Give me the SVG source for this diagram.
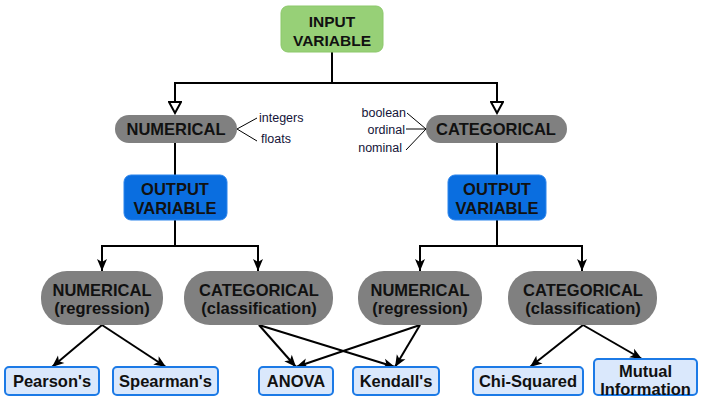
<svg xmlns="http://www.w3.org/2000/svg" width="703" height="409" viewBox="0 0 703 409">
<style>
.t{font-family:"Liberation Sans",Arial,sans-serif;font-weight:bold;font-size:16.5px;fill:#111;text-anchor:middle}
.s{font-family:"Liberation Sans",Arial,sans-serif;font-size:12.5px;fill:#141438}
.pill{fill:#808080}
.leaf{fill:#dae8fc;stroke:#1c7ae6;stroke-width:2}
.out{fill:#0a6ee0;stroke:#2b84ec;stroke-width:1}
.c{fill:none;stroke:#000;stroke-width:2}
.a{fill:none;stroke:#000;stroke-width:1}
</style>
<defs>
<marker id="arr" markerUnits="userSpaceOnUse" markerWidth="14" markerHeight="12" viewBox="0 0 14 12" refX="13" refY="6" orient="auto"><path d="M1,1 L13,6 L1,11 L4,6 Z" fill="#000"/></marker>
<marker id="hol" markerUnits="userSpaceOnUse" markerWidth="14" markerHeight="14" viewBox="0 0 14 14" refX="12" refY="7" orient="auto"><path d="M1,1 L12,7 L1,13 Z" fill="#fff" stroke="#000" stroke-width="2"/></marker>
</defs>

<g id="connectors">
<path class="c" d="M332,52 V83 H175 V113" marker-end="url(#hol)"/>
<path class="c" d="M332,83 H497 V113" marker-end="url(#hol)"/>
<path class="c" d="M175,143 V175"/>
<path class="c" d="M497,143 V175"/>
<path class="c" d="M175,220 V246 H102 V271" marker-end="url(#arr)"/>
<path class="c" d="M175,246 H258 V271" marker-end="url(#arr)"/>
<path class="c" d="M497,220 V246 H420 V271" marker-end="url(#arr)"/>
<path class="c" d="M497,246 H582 V271" marker-end="url(#arr)"/>
<path class="c" d="M102,325 L52,367" marker-end="url(#arr)"/>
<path class="c" d="M102,325 L166,367" marker-end="url(#arr)"/>
<path class="c" d="M259,325 L296,367" marker-end="url(#arr)"/>
<path class="c" d="M259,325 L395,367" marker-end="url(#arr)"/>
<path class="c" d="M420,325 L296,367" marker-end="url(#arr)"/>
<path class="c" d="M420,325 L395,367" marker-end="url(#arr)"/>
<path class="c" d="M583,325 L530,367" marker-end="url(#arr)"/>
<path class="c" d="M583,325 L642,359" marker-end="url(#arr)"/>
<path class="a" d="M237,129 L257,118 M237,129 L257,141"/>
<path class="a" d="M426,129 L407,113 M426,129 L406,129 M426,129 L406,150"/>
</g>

<g id="input">
<rect x="281" y="6" width="102" height="46" rx="7" fill="#97d077" stroke="#8cc86b"/>
<text class="t" style="font-size:15.5px" x="332" y="27">INPUT</text>
<text class="t" style="font-size:15.5px" x="332" y="46">VARIABLE</text>
</g>

<g id="numerical">
<rect class="pill" x="115" y="115" width="122" height="28" rx="14"/>
<text class="t" x="176" y="135">NUMERICAL</text>
</g>
<g id="numerical-types">
<text class="s" x="259" y="122">integers</text>
<text class="s" x="261" y="143">floats</text>
</g>

<g id="categorical">
<rect class="pill" x="426" y="115" width="141" height="28" rx="14"/>
<text class="t" x="496" y="135">CATEGORICAL</text>
</g>
<g id="categorical-types">
<text class="s" x="406" y="117" text-anchor="end">boolean</text>
<text class="s" x="405" y="134" text-anchor="end">ordinal</text>
<text class="s" x="402" y="152" text-anchor="end">nominal</text>
</g>

<g id="output-left">
<rect class="out" x="124" y="175" width="103" height="45" rx="7"/>
<text class="t" x="175" y="195">OUTPUT</text>
<text class="t" x="175" y="214">VARIABLE</text>
</g>
<g id="output-right">
<rect class="out" x="448" y="175" width="98" height="45" rx="7"/>
<text class="t" x="497" y="195">OUTPUT</text>
<text class="t" x="497" y="214">VARIABLE</text>
</g>

<g id="num-regression-left">
<rect class="pill" x="41" y="271" width="122" height="54" rx="26"/>
<text class="t" x="102" y="296">NUMERICAL</text>
<text class="t" x="102" y="314">(regression)</text>
</g>
<g id="cat-classification-left">
<rect class="pill" x="184" y="271" width="149" height="54" rx="26"/>
<text class="t" x="259" y="296">CATEGORICAL</text>
<text class="t" x="259" y="314">(classification)</text>
</g>
<g id="num-regression-right">
<rect class="pill" x="358" y="271" width="124" height="54" rx="26"/>
<text class="t" x="420" y="296">NUMERICAL</text>
<text class="t" x="420" y="314">(regression)</text>
</g>
<g id="cat-classification-right">
<rect class="pill" x="508" y="271" width="149" height="54" rx="26"/>
<text class="t" x="583" y="296">CATEGORICAL</text>
<text class="t" x="583" y="314">(classification)</text>
</g>

<g id="pearson">
<rect class="leaf" x="5" y="367" width="94" height="28" rx="4"/>
<text class="t" x="52" y="387">Pearson's</text>
</g>
<g id="spearman">
<rect class="leaf" x="113" y="367" width="105" height="28" rx="4"/>
<text class="t" x="165.5" y="387">Spearman's</text>
</g>
<g id="anova">
<rect class="leaf" x="259" y="367" width="74" height="28" rx="4"/>
<text class="t" x="296" y="387">ANOVA</text>
</g>
<g id="kendall">
<rect class="leaf" x="353" y="367" width="86" height="28" rx="4"/>
<text class="t" x="396" y="387">Kendall's</text>
</g>
<g id="chi-squared">
<rect class="leaf" x="473" y="367" width="110" height="28" rx="4"/>
<text class="t" x="528" y="387">Chi-Squared</text>
</g>
<g id="mutual-information">
<rect class="leaf" x="594" y="359" width="103" height="36" rx="4"/>
<text class="t" x="645.5" y="377">Mutual</text>
<text class="t" x="645.5" y="395">Information</text>
</g>
</svg>
